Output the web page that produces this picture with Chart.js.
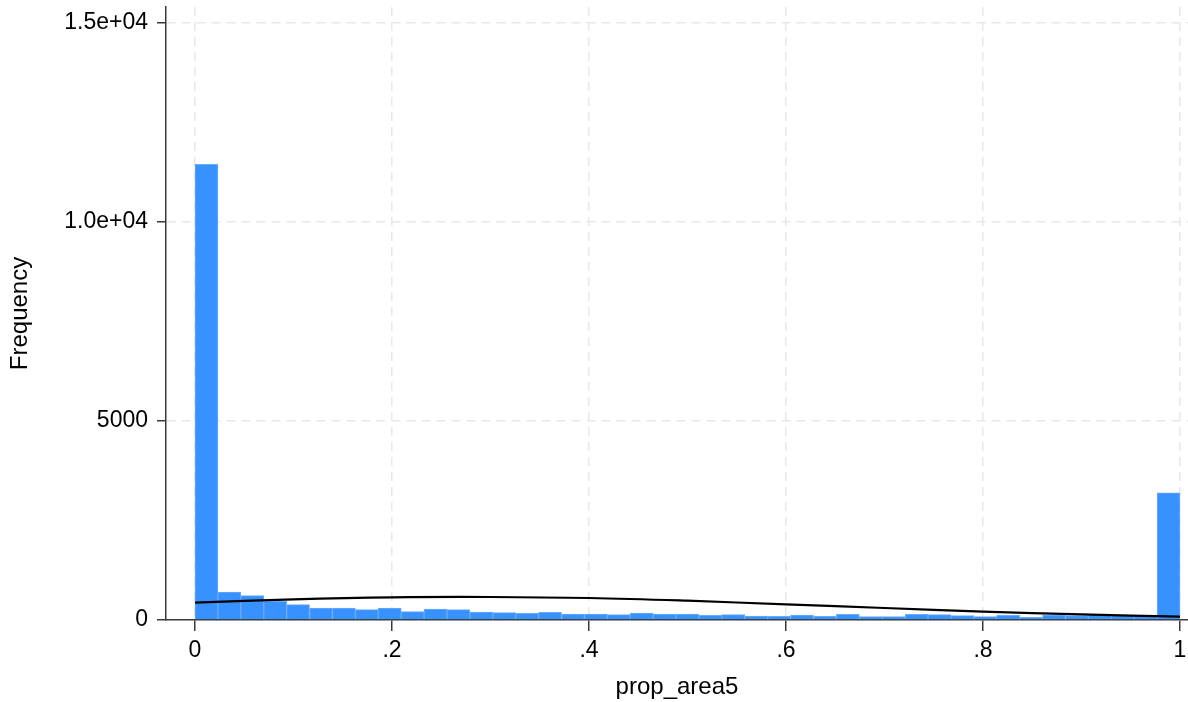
<!DOCTYPE html>
<html>
<head>
<meta charset="utf-8">
<script src="https://cdn.jsdelivr.net/npm/chart.js@4/dist/chart.umd.min.js"></script>
<style>
  html, body { margin: 0; padding: 0; background: #fff; overflow: hidden; }
  #wrap { width: 1188px; height: 702px; }
</style>
</head>
<body>
<div id="wrap"><canvas id="hist" width="1188" height="702"></canvas></div>
<script>
// histogram of prop_area5, 43 equal bins on [0, 1]
const binCounts = [11450, 703, 611, 470, 385, 302, 302, 260, 302, 209, 276, 260, 201, 184, 168,
  193, 151, 151, 134, 176, 151, 151, 117, 134, 100, 92, 126, 92, 140, 84, 84, 142, 134, 109,
  84, 117, 67, 126, 109, 126, 126, 100, 3198];
const binStart = 0;
const binWidth = 1 / 43;

// normal density overlay, in frequency units
const curveX = [0, 0.1, 0.2, 0.3, 0.4, 0.5, 0.6, 0.7, 0.8, 0.9, 1.0];
const curveY = [435, 520, 570, 578, 553, 485, 392, 301, 209, 140, 83];

const xTicks = [0, 0.2, 0.4, 0.6, 0.8, 1];
const xTickLabels = ["0", ".2", ".4", ".6", ".8", "1"];
const yTicks = [0, 5000, 10000, 15000];
const yTickLabels = ["0", "5000", "1.0e+04", "1.5e+04"];

const barPoints = binCounts.map((c, i) => ({ x: binStart + (i + 0.5) * binWidth, y: c }));
const curvePoints = curveX.map((x, i) => ({ x: x, y: curveY[i] }));

const family = "'Liberation Sans', Arial, Helvetica, sans-serif";
const tickFont = { family: family, size: 23 };
const titleFont = { family: family, size: 24 };
const axisColor = "#3a3a3a";
const gridColor = "#e8e8e8";

new Chart(document.getElementById("hist"), {
  type: "bar",
  data: {
    datasets: [
      {
        type: "line",
        data: curvePoints,
        borderColor: "#000",
        borderWidth: 2.2,
        pointRadius: 0,
        tension: 0.4,
        fill: false,
        order: 0,
      },
      {
        type: "bar",
        data: barPoints,
        backgroundColor: "#3791ff",
        borderColor: "#68abff",
        borderWidth: 1,
        barPercentage: 1,
        categoryPercentage: 1,
        grouped: false,
        order: 1,
      },
    ],
  },
  options: {
    responsive: false,
    animation: false,
    devicePixelRatio: 1,
    layout: { padding: { top: 7, right: 0, bottom: 0, left: 0 } },
    plugins: { legend: { display: false }, tooltip: { enabled: false } },
    scales: {
      x: {
        type: "linear",
        offset: false,
        min: -29 / 985,
        max: 1 + 8 / 985,
        afterFit: (s) => { s.height = 82; s.paddingLeft = 0; s.paddingRight = 0; },
        afterBuildTicks: (s) => { s.ticks = xTicks.map((v) => ({ value: v })); },
        ticks: {
          color: "#000",
          font: tickFont,
          padding: 6,
          maxRotation: 0,
          autoSkip: false,
          callback: (v, i) => xTickLabels[i],
        },
        grid: {
          offset: false,
          color: gridColor,
          lineWidth: 1.5,
          tickLength: 11,
          tickColor: axisColor,
          tickWidth: 1.5,
        },
        border: { display: true, color: axisColor, width: 1.5, dash: [9, 6] },
        title: { display: true, text: "prop_area5", color: "#000", font: titleFont, padding: { top: 0, bottom: 0 } },
      },
      y: {
        type: "linear",
        min: 0,
        max: 613 / 0.0398,
        afterFit: (s) => { s.width = 166; s.paddingTop = 0; s.paddingBottom = 0; },
        afterBuildTicks: (s) => { s.ticks = yTicks.map((v) => ({ value: v })); },
        ticks: {
          color: "#000",
          font: tickFont,
          padding: 9,
          autoSkip: false,
          callback: (v, i) => yTickLabels[i],
        },
        grid: {
          color: gridColor,
          lineWidth: 1.5,
          tickLength: 9,
          tickColor: axisColor,
          tickWidth: 1.5,
        },
        border: { display: true, color: axisColor, width: 1.5, dash: [9, 6] },
        title: { display: true, text: "Frequency", color: "#000", font: titleFont, padding: { top: 6, bottom: 0 } },
      },
    },
  },
});
</script>
</body>
</html>
